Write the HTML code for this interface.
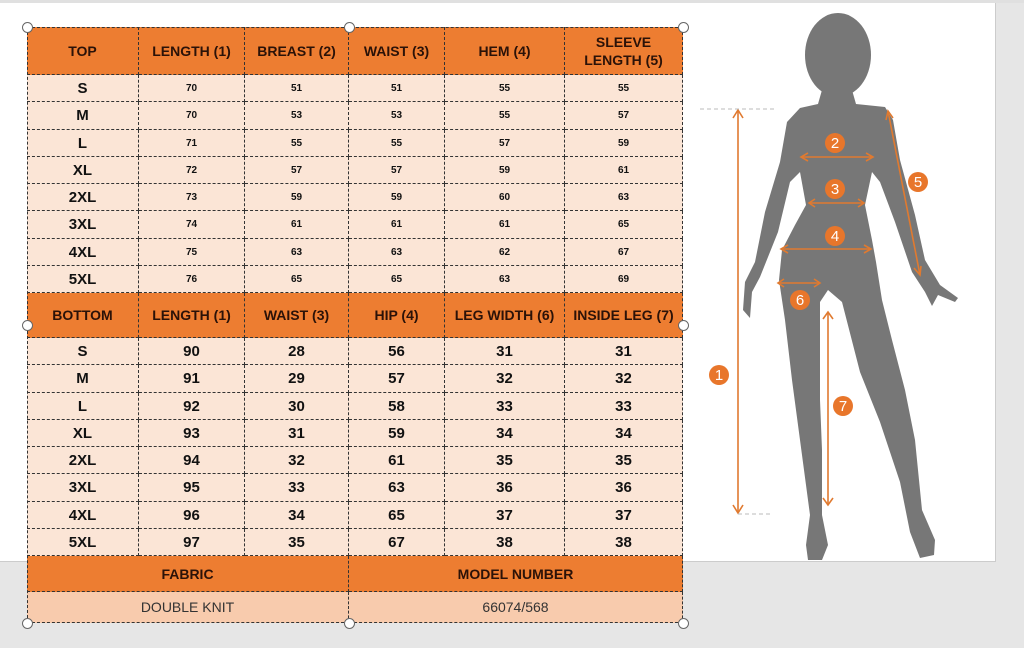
<!DOCTYPE html>
<html><head><meta charset="utf-8"><style>
body{margin:0;width:1024px;height:648px;background:#e6e6e6;position:relative;overflow:hidden;font-family:"Liberation Sans",sans-serif}
.page{position:absolute;left:0;top:3px;width:995px;height:558px;background:#fff;border-right:1px solid #ccc;border-bottom:1px solid #ccc}
.topline{position:absolute;left:0;top:0;width:1024px;height:3px;background:#e0e0e0}
.c{position:absolute;box-sizing:border-box;display:flex;align-items:center;justify-content:center;text-align:center;border-right:1px dashed #333;border-bottom:1px dashed #333;color:#111;font-weight:bold}
.h{background:#ed7d31;color:#2b1208;font-size:14px;line-height:18px}
.r{background:#fbe5d6}
.s{font-size:10px}
.b{font-size:15px}
.handle{position:absolute;width:9px;height:9px;border:1px solid #666;border-radius:50%;background:#fff;z-index:5}
</style></head><body>
<div class="topline"></div>
<div class="page"></div>
<div id="cells"></div>
<div style="position:absolute;left:27px;top:27px;width:656px;height:596px;border-left:1px dashed #333;border-top:1px dashed #333;box-sizing:border-box"></div>
<svg style="position:absolute;left:0;top:0" width="1024" height="648">
<g fill="#777">
<ellipse cx="838" cy="55" rx="33" ry="42"/>
<polygon points="822,90 852,90 856,104 885,107 893,120 900,160 915,215 925,260 940,285 958,298 955,302 938,295 932,306 925,292 912,272 895,222 880,182 872,172 865,205 872,240 876,262 882,300 892,340 905,390 915,440 922,510 935,540 934,555 920,558 910,532 900,482 880,422 860,372 842,302 828,290 820,302 820,400 822,450 822,515 828,545 822,560 808,560 806,545 810,515 800,440 792,380 785,320 779,280 782,250 795,225 806,205 800,172 790,182 778,232 760,277 752,292 750,318 743,310 745,282 755,262 765,212 780,162 787,122 800,108 818,104"/>
</g>
<g stroke="#e07a30" stroke-width="1.6" fill="none">
<line x1="738" y1="110" x2="738" y2="513"/><polyline points="733,118 738,110 743,118"/><polyline points="733,505 738,513 743,505"/>
<line x1="801" y1="157" x2="873" y2="157"/><polyline points="808,153 801,157 808,161"/><polyline points="866,153 873,157 866,161"/>
<line x1="809" y1="203" x2="864" y2="203"/><polyline points="815,199 809,203 815,207"/><polyline points="858,199 864,203 858,207"/>
<line x1="781" y1="249" x2="871" y2="249"/><polyline points="788,245 781,249 788,253"/><polyline points="864,245 871,249 864,253"/>
<line x1="778" y1="283" x2="820" y2="283"/><polyline points="784,279 778,283 784,287"/><polyline points="814,279 820,283 814,287"/>
<line x1="888" y1="111" x2="920" y2="275"/><polyline points="886,120 888,111 893,118"/><polyline points="914,268 920,275 921,266"/>
<line x1="828" y1="312" x2="828" y2="505"/><polyline points="823,319 828,312 833,319"/><polyline points="823,498 828,505 833,498"/>
</g>
<g stroke="#bbb" stroke-dasharray="4,3"><line x1="700" y1="109" x2="775" y2="109"/><line x1="738" y1="514" x2="773" y2="514"/></g>
<g fill="#e8762b"><circle cx="719" cy="375" r="10"/><circle cx="835" cy="143" r="10"/><circle cx="835" cy="189" r="10"/><circle cx="835" cy="236" r="10"/><circle cx="800" cy="300" r="10"/><circle cx="918" cy="182" r="10"/><circle cx="843" cy="406" r="10"/></g>
<g fill="#fff" font-family="Liberation Sans" font-size="15" text-anchor="middle">
<text x="719" y="380">1</text><text x="835" y="148">2</text><text x="835" y="194">3</text><text x="835" y="241">4</text><text x="800" y="305">6</text><text x="918" y="187">5</text><text x="843" y="411">7</text></g>
</svg>
<div class="handle" style="left:22px;top:22px"></div><div class="handle" style="left:344px;top:22px"></div><div class="handle" style="left:678px;top:22px"></div>
<div class="handle" style="left:22px;top:320px"></div><div class="handle" style="left:678px;top:320px"></div>
<div class="handle" style="left:22px;top:618px"></div><div class="handle" style="left:344px;top:618px"></div><div class="handle" style="left:678px;top:618px"></div>
<script>
(function(){
var X=[27,139,245,349,445,565,683];
var out='';
function cell(x1,x2,y1,y2,cls,txt){out+='<div class="c '+cls+'" style="left:'+x1+'px;top:'+y1+'px;width:'+(x2-x1)+'px;height:'+(y2-y1)+'px">'+txt+'</div>';}
var th=['TOP','LENGTH (1)','BREAST (2)','WAIST (3)','HEM (4)','SLEEVE<br>LENGTH (5)'];
for(var i=0;i<6;i++)cell(X[i],X[i+1],27,75,'h',th[i]);
var sz=['S','M','L','XL','2XL','3XL','4XL','5XL'];
var tp=[[70,51,51,55,55],[70,53,53,55,57],[71,55,55,57,59],[72,57,57,59,61],[73,59,59,60,63],[74,61,61,61,65],[75,63,63,62,67],[76,65,65,63,69]];
for(var r=0;r<8;r++){var y1=Math.round(75+r*27.25),y2=Math.round(75+(r+1)*27.25);cell(X[0],X[1],y1,y2,'r b',sz[r]);for(var i=0;i<5;i++)cell(X[i+1],X[i+2],y1,y2,'r s',tp[r][i]);}
var bh=['BOTTOM','LENGTH (1)','WAIST (3)','HIP (4)','LEG WIDTH (6)','INSIDE LEG (7)'];
for(var i=0;i<6;i++)cell(X[i],X[i+1],293,338,'h',bh[i]);
var bt=[[90,28,56,31,31],[91,29,57,32,32],[92,30,58,33,33],[93,31,59,34,34],[94,32,61,35,35],[95,33,63,36,36],[96,34,65,37,37],[97,35,67,38,38]];
for(var r=0;r<8;r++){var y1=Math.round(338+r*27.25),y2=Math.round(338+(r+1)*27.25);cell(X[0],X[1],y1,y2,'r b',sz[r]);for(var i=0;i<5;i++)cell(X[i+1],X[i+2],y1,y2,'r b',bt[r][i]);}
cell(27,349,556,592,'h','FABRIC');cell(349,683,556,592,'h','MODEL NUMBER');
out+='<div class="c" style="left:27px;top:592px;width:322px;height:31px;background:#f8cbad;font-weight:normal;font-size:14px;color:#333">DOUBLE KNIT</div>';
out+='<div class="c" style="left:349px;top:592px;width:334px;height:31px;background:#f8cbad;font-weight:normal;font-size:14px;color:#333">66074/568</div>';
document.getElementById('cells').innerHTML=out;
})();
</script>
</body></html>
